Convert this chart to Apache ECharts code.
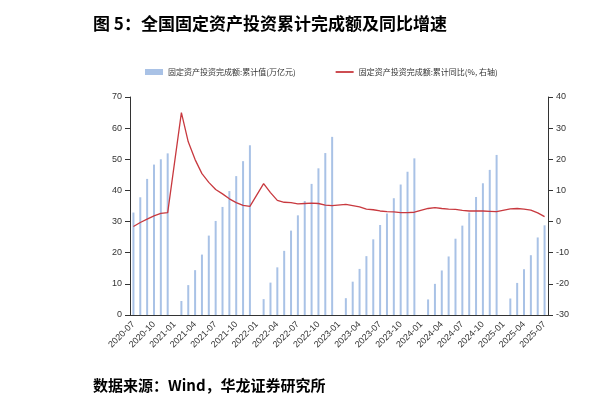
<!DOCTYPE html>
<html><head><meta charset="utf-8">
<script src="https://cdn.jsdelivr.net/npm/echarts@6/dist/echarts.min.js"></script>
<style>body{margin:0;background:#fff}#c{width:599px;height:410px}</style>
</head><body><div id="c"></div>
<script>
// 月份 2020-07 .. 2025-07
var months = [];
for (var y = 2020; y <= 2025; y++) {
    for (var m = 1; m <= 12; m++) {
        if ((y == 2020 && m < 7) || (y == 2025 && m > 7)) continue;
        months.push(y + '-' + (m < 10 ? '0' + m : m));
    }
}
// 累计值(万亿元), 1月无数据
var cumValue = [32.9, 37.8, 43.7, 48.3, 50.0, 51.9,
    null, 4.5, 9.6, 14.4, 19.4, 25.5, 30.2, 34.7, 39.8, 44.6, 49.4, 54.5,
    null, 5.1, 10.4, 15.3, 20.6, 27.1, 32.0, 36.6, 42.1, 47.1, 52.0, 57.2,
    null, 5.4, 10.7, 14.8, 18.9, 24.3, 28.9, 32.6, 37.5, 41.9, 46.0, 50.3,
    null, 5.0, 10.0, 14.3, 18.8, 24.5, 28.7, 32.9, 37.9, 42.3, 46.6, 51.4,
    null, 5.3, 10.3, 14.7, 19.2, 24.9, 28.8];
// 累计同比(%)
var yoy = [-1.6, -0.3, 0.8, 1.8, 2.6, 2.9,
    null, 35.0, 25.6, 19.9, 15.4, 12.6, 10.3, 8.9, 7.3, 6.1, 5.2, 4.9,
    null, 12.2, 9.3, 6.8, 6.2, 6.1, 5.7, 5.8, 5.9, 5.8, 5.3, 5.1,
    null, 5.5, 5.1, 4.7, 4.0, 3.8, 3.4, 3.2, 3.1, 2.9, 2.9, 3.0,
    null, 4.2, 4.5, 4.2, 4.0, 3.9, 3.6, 3.4, 3.4, 3.4, 3.3, 3.2,
    null, 4.1, 4.2, 4.0, 3.7, 2.8, 1.6];

var chart = echarts.init(document.getElementById('c'));
var axisFont = {fontSize: 9, color: '#333', fontFamily: 'Liberation Sans'};
chart.setOption({
    animation: false,
    title: [
        {text: '图 5：全国固定资产投资累计完成额及同比增速', left: 88, top: 10,
            textStyle: {fontSize: 17, fontWeight: 'bold', color: '#000', fontFamily: 'Noto Sans CJK SC'}},
        {text: '数据来源：Wind，华龙证券研究所', left: 88, top: 373,
            textStyle: {fontSize: 15, fontWeight: 'bold', color: '#000', fontFamily: 'Noto Sans CJK SC'}}
    ],
    legend: {
        top: 63, left: 140, itemGap: 40, itemWidth: 18, itemHeight: 6,
        textStyle: {fontSize: 8, color: '#333', fontFamily: 'Noto Sans CJK SC'},
        data: [{name: '固定资产投资完成额:累计值(万亿元)', icon: 'rect'},
            {name: '固定资产投资完成额:累计同比(%, 右轴)', icon: 'path://M0,4 L20,4 L20,6 L0,6 Z'}]
    },
    grid: {left: 130, right: 51, top: 97, bottom: 95},
    xAxis: {
        type: 'category', data: months,
        axisLine: {lineStyle: {color: '#333'}},
        axisTick: {alignWithLabel: true, interval: 2},
        axisLabel: Object.assign({rotate: 45, interval: 2}, axisFont)
    },
    yAxis: [
        {type: 'value', min: 0, max: 70, interval: 10, splitLine: {show: false},
            axisLine: {show: true, lineStyle: {color: '#333'}}, axisTick: {show: true},
            axisLabel: axisFont},
        {type: 'value', min: -30, max: 40, interval: 10, splitLine: {show: false},
            axisLine: {show: true, lineStyle: {color: '#333'}}, axisTick: {show: true},
            axisLabel: axisFont}
    ],
    series: [
        {name: '固定资产投资完成额:累计值(万亿元)', type: 'bar', data: cumValue,
            barWidth: 2, itemStyle: {color: '#a9c2e6'}},
        {name: '固定资产投资完成额:累计同比(%, 右轴)', type: 'line', yAxisIndex: 1, data: yoy,
            connectNulls: true, symbol: 'none', lineStyle: {color: '#c8393f', width: 1.3},
            itemStyle: {color: '#c8393f'}}
    ]
});
</script></body></html>
